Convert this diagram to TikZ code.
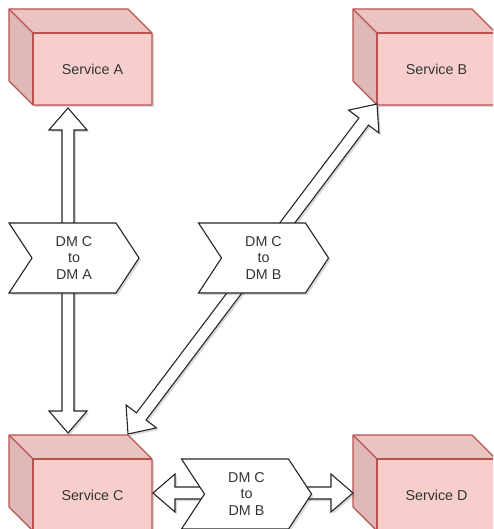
\documentclass[tikz,border=0pt]{standalone}
\usepackage{fontspec}
\setmainfont{Liberation Sans}
\usetikzlibrary{calc,shadows}

\definecolor{svcfill}{HTML}{F8CECC}
\definecolor{svcline}{HTML}{B85450}
\definecolor{txt}{HTML}{333333}

\tikzset{
  labeltext/.style={font=\fontsize{14.3}{16.5}\selectfont, text=txt, align=center,
                    inner sep=0pt, outer sep=0pt},
  cubefront/.style={labeltext, minimum width=119pt, minimum height=72pt},
  cubeedge/.style={draw=svcline, line width=1.1pt, line join=round},
  softshadow/.style={drop shadow={shadow xshift=2pt, shadow yshift=-2pt,
                     opacity=0.15, fill=black}},
  flexarrow/.style={draw=black!85, fill=white, line width=1.1pt, softshadow},
  stepshape/.style={draw=black!85, fill=white, line width=1.1pt, softshadow},
  steptext/.style={labeltext, minimum width=130pt, minimum height=70pt},
}

% service cube: name, x and y of the back top-left corner, label
\newcommand\svcbox[4]{%
  \begin{scope}[shift={(#2,#3)}]
    \path[softshadow, fill=svcfill]
      (0,0) -- (119,0) -- (143,24) -- (143,96) -- (24,96) -- (0,72) -- cycle;
    \fill[black, opacity=0.05] (0,0) -- (119,0) -- (143,24) -- (24,24) -- cycle;
    \fill[black, opacity=0.1] (0,0) -- (24,24) -- (24,96) -- (0,72) -- cycle;
    \draw[cubeedge]
      (0,0) -- (119,0) -- (143,24) -- (143,96) -- (24,96) -- (0,72) -- cycle;
    \draw[cubeedge] (0,0) -- (24,24);
    \draw[cubeedge] (143,24) -- (24,24) -- (24,96);
    \node[cubefront] (#1) at (83.5,60) {#4};
  \end{scope}
}

% step (chevron) shape with its text: name, centre x, centre y, text
\newcommand\stepbox[4]{%
  \begin{scope}[shift={(#2,#3)}]
    \path[stepshape] (-65,-35) -- (42,-35) -- (65,0) -- (42,35) -- (-65,35)
      -- (-42,0) -- cycle;
    \node[steptext] (#1) at (0,0) {#4};
  \end{scope}
}

% hollow arrow with heads at both ends
\newcommand\flexdouble[2]{%
  \coordinate (fa1) at ($(#1)!22pt!(#2)$);
  \coordinate (fa2) at ($(#2)!22pt!(#1)$);
  \path[flexarrow] (#1)
    -- ($(fa1)!19pt!90:(#2)$) -- ($(fa1)!6pt!90:(#2)$)
    -- ($(fa2)!6pt!90:(#2)$) -- ($(fa2)!19pt!90:(#2)$)
    -- (#2)
    -- ($(fa2)!19pt!-90:(#2)$) -- ($(fa2)!6pt!-90:(#2)$)
    -- ($(fa1)!6pt!-90:(#2)$) -- ($(fa1)!19pt!-90:(#2)$)
    -- cycle;
}

% hollow arrow with a head at its end only
\newcommand\flexsingle[2]{%
  \coordinate (fa2) at ($(#2)!22pt!(#1)$);
  \path[flexarrow] ($(#1)!6pt!90:(#2)$)
    -- ($(fa2)!6pt!90:(#2)$) -- ($(fa2)!19pt!90:(#2)$)
    -- (#2)
    -- ($(fa2)!19pt!-90:(#2)$) -- ($(fa2)!6pt!-90:(#2)$)
    -- ($(#1)!6pt!-90:(#2)$) -- cycle;
}

\begin{document}
\begin{tikzpicture}[x=1pt, y=-1pt]
  \useasboundingbox (0,0) rectangle (493,529);
  \clip (0,0) rectangle (493,529);
  \fill[white] (0,0) rectangle (493,529);

  % services
  \svcbox{svcA}{9}{9}{Service A}
  \svcbox{svcB}{353}{9}{Service B}
  \svcbox{svcC}{9}{435}{Service C}
  \svcbox{svcD}{353}{435}{Service D}

  % arrow end points
  \coordinate (aEnd) at (68,108);
  \coordinate (cEndA) at (68,433);
  \coordinate (cEndB) at (128,434);
  \coordinate (bEnd) at (377,104);
  \coordinate (cEndS) at (153,493);
  \coordinate (dEnd) at (353,493);
  \coordinate (stepCDin) at (215,493);
  \coordinate (stepCDout) at (304,493);

  % connectors
  \flexdouble{aEnd}{cEndA}
  \flexdouble{cEndB}{bEnd}
  \flexsingle{stepCDin}{cEndS}
  \flexsingle{stepCDout}{dEnd}

  % migration steps
  \stepbox{stepCA}{74}{258}{DM C\\to\\DM A}
  \stepbox{stepCB}{263.5}{258}{DM C\\to\\DM B}
  \stepbox{stepCD}{246.5}{494}{DM C\\to\\DM B}
\end{tikzpicture}
\end{document}
